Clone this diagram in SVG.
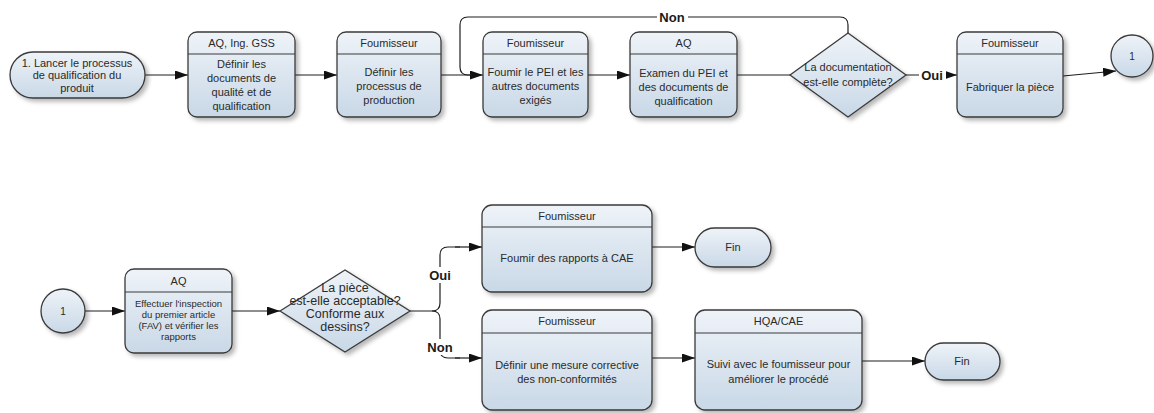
<svg xmlns="http://www.w3.org/2000/svg" width="1154" height="413" viewBox="0 0 1154 413">
  <defs>
    <linearGradient id="fillGrad" x1="0" y1="0" x2="0" y2="1">
      <stop offset="0" stop-color="#eef3f8"/>
      <stop offset="1" stop-color="#c9d8e7"/>
    </linearGradient>
    <filter id="shadow" x="-10%" y="-10%" width="130%" height="130%">
      <feDropShadow dx="3" dy="3" stdDeviation="2" flood-color="#000" flood-opacity="0.28"/>
    </filter>
    <marker id="arrow" viewBox="0 0 13 9" refX="13" refY="4.5" markerWidth="13" markerHeight="9" markerUnits="userSpaceOnUse" orient="auto">
      <path d="M0,0 L13,4.5 L0,9 Z" fill="#111"/>
    </marker>
    <style>
      .shape { fill: url(#fillGrad); stroke: #3a3a3a; stroke-width: 1.3; filter: url(#shadow); }
      .div { stroke: #3a3a3a; stroke-width: 1.2; }
      .t { font-family: "Liberation Sans", Arial, sans-serif; font-size: 11px; fill: #2a2a2a; text-anchor: middle; }
      .small { font-size: 9.5px; }
      .dia { font-size: 12.5px; }
      .lbl { font-family: "Liberation Sans", Arial, sans-serif; font-size: 13px; font-weight: bold; fill: #1a1a1a; text-anchor: middle; }
      .edge { stroke: #1e1e1e; stroke-width: 1.2; fill: none; }
      .arr { marker-end: url(#arrow); }
      .bg { fill: #ffffff; }
    </style>
  </defs>

  <rect width="1154" height="413" fill="#ffffff"/>

  <!-- connectors -->
  <g id="connectors">
    <path class="edge arr" d="M145,75 H188"/>
    <path class="edge arr" d="M295,75 H337"/>
    <path class="edge arr" d="M441,75 H483"/>
    <path class="edge arr" d="M588,75 H630"/>
    <path class="edge" d="M737,75 H790"/>
    <path class="edge" d="M848,33 V25 Q848,17 840,17 H468 Q460,17 460,25 V67 Q460,75 468,75 H472"/>
    <rect class="bg" x="657" y="9" width="31" height="16"/>
    <text class="lbl" x="672" y="22">Non</text>
    <path class="edge arr" d="M906,75 H957"/>
    <rect class="bg" x="919" y="67" width="27" height="16"/>
    <text class="lbl" x="932" y="80">Oui</text>
    <path class="edge arr" d="M1063,76 L1116,71"/>

    <path class="edge arr" d="M85,311 H125"/>
    <path class="edge arr" d="M232,311 H280"/>
    <path class="edge" d="M410,311 H432 Q440,311 440,303 V255 Q440,247 448,247 H460"/>
    <path class="edge" d="M432,311 Q440,311 440,319 V350 Q440,358 448,358 H460"/>
    <path class="edge arr" d="M455,247 H482"/>
    <path class="edge arr" d="M455,358 H482"/>
    <rect class="bg" x="426" y="267" width="28" height="16"/>
    <text class="lbl" x="440" y="280">Oui</text>
    <rect class="bg" x="424" y="339" width="32" height="16"/>
    <text class="lbl" x="440" y="352">Non</text>
    <path class="edge arr" d="M652,247 H695"/>
    <path class="edge arr" d="M652,358 H695"/>
    <path class="edge arr" d="M862,361 H925"/>
  </g>

  <!-- top row -->
  <g id="start">
    <rect class="shape" x="10" y="52" width="135" height="46" rx="23"/>
    <text class="t" x="77" y="67">1. Lancer le processus</text>
    <text class="t" x="77" y="79">de qualification du</text>
    <text class="t" x="77" y="92">produit</text>
  </g>

  <g id="define-docs">
    <rect class="shape" x="188" y="32" width="107" height="85" rx="9"/>
    <line class="div" x1="188" y1="54" x2="295" y2="54"/>
    <text class="t" x="241.5" y="47">AQ, Ing. GSS</text>
    <text class="t" x="241.5" y="68">Définir les</text>
    <text class="t" x="241.5" y="82">documents de</text>
    <text class="t" x="241.5" y="96">qualité et de</text>
    <text class="t" x="241.5" y="110">qualification</text>
  </g>

  <g id="define-process">
    <rect class="shape" x="337" y="32" width="104" height="85" rx="9"/>
    <line class="div" x1="337" y1="54" x2="441" y2="54"/>
    <text class="t" x="389" y="47">Foumisseur</text>
    <text class="t" x="389" y="76">Définir les</text>
    <text class="t" x="389" y="90">processus de</text>
    <text class="t" x="389" y="104">production</text>
  </g>

  <g id="supply-pei">
    <rect class="shape" x="483" y="32" width="105" height="85" rx="9"/>
    <line class="div" x1="483" y1="54" x2="588" y2="54"/>
    <text class="t" x="535.5" y="47">Foumisseur</text>
    <text class="t" x="535.5" y="76">Foumir le PEI et les</text>
    <text class="t" x="535.5" y="90">autres documents</text>
    <text class="t" x="535.5" y="104">exigés</text>
  </g>

  <g id="review-pei">
    <rect class="shape" x="630" y="32" width="107" height="85" rx="9"/>
    <line class="div" x1="630" y1="54" x2="737" y2="54"/>
    <text class="t" x="683.5" y="47">AQ</text>
    <text class="t" x="683.5" y="77">Examen du PEI et</text>
    <text class="t" x="683.5" y="91">des documents de</text>
    <text class="t" x="683.5" y="105">qualification</text>
  </g>

  <g id="doc-complete">
    <polygon class="shape" points="790,75 848,33 906,75 848,117"/>
    <text class="t" x="848" y="71">La documentation</text>
    <text class="t" x="848" y="86">est-elle complète?</text>
  </g>

  <g id="make-part">
    <rect class="shape" x="957" y="32" width="106" height="85" rx="9"/>
    <line class="div" x1="957" y1="54" x2="1063" y2="54"/>
    <text class="t" x="1010" y="47">Foumisseur</text>
    <text class="t" x="1010" y="91">Fabriquer la pièce</text>
  </g>

  <g id="link-out">
    <circle class="shape" cx="1132" cy="56" r="21"/>
    <text class="t" x="1132" y="60" style="font-size:10px">1</text>
  </g>

  <!-- bottom row -->
  <g id="link-in">
    <circle class="shape" cx="63" cy="311" r="22"/>
    <text class="t" x="63" y="315" style="font-size:10px">1</text>
  </g>

  <g id="fai">
    <rect class="shape" x="125" y="269" width="107" height="84" rx="9"/>
    <line class="div" x1="125" y1="292" x2="232" y2="292"/>
    <text class="t" x="178.5" y="285">AQ</text>
    <text class="t small" x="178.5" y="307">Effectuer l'inspection</text>
    <text class="t small" x="178.5" y="318">du premier article</text>
    <text class="t small" x="178.5" y="329">(FAV) et vérifier les</text>
    <text class="t small" x="178.5" y="340">rapports</text>
  </g>

  <g id="part-ok">
    <polygon class="shape" points="280,311 345,270 410,311 345,352"/>
    <text class="t dia" x="345" y="292">La pièce</text>
    <text class="t dia" x="345" y="305">est-elle acceptable?</text>
    <text class="t dia" x="345" y="318">Conforme aux</text>
    <text class="t dia" x="345" y="331">dessins?</text>
  </g>

  <g id="send-reports">
    <rect class="shape" x="482" y="205" width="170" height="87" rx="10"/>
    <line class="div" x1="482" y1="227" x2="652" y2="227"/>
    <text class="t" x="567" y="220">Foumisseur</text>
    <text class="t" x="567" y="262">Foumir des rapports à CAE</text>
  </g>

  <g id="end-1">
    <rect class="shape" x="695" y="228" width="76" height="39" rx="19.5"/>
    <text class="t" x="733" y="251">Fin</text>
  </g>

  <g id="corrective">
    <rect class="shape" x="482" y="310" width="170" height="100" rx="10"/>
    <line class="div" x1="482" y1="333" x2="652" y2="333"/>
    <text class="t" x="567" y="325">Foumisseur</text>
    <text class="t" x="567" y="369">Définir une mesure corrective</text>
    <text class="t" x="567" y="383">des non-conformités</text>
  </g>

  <g id="follow-up">
    <rect class="shape" x="695" y="310" width="167" height="100" rx="10"/>
    <line class="div" x1="695" y1="333" x2="862" y2="333"/>
    <text class="t" x="778.5" y="325">HQA/CAE</text>
    <text class="t" x="778.5" y="368">Suivi avec le foumisseur pour</text>
    <text class="t" x="778.5" y="383">améliorer le procédé</text>
  </g>

  <g id="end-2">
    <rect class="shape" x="925" y="343" width="75" height="37" rx="18.5"/>
    <text class="t" x="962" y="365">Fin</text>
  </g>
</svg>
